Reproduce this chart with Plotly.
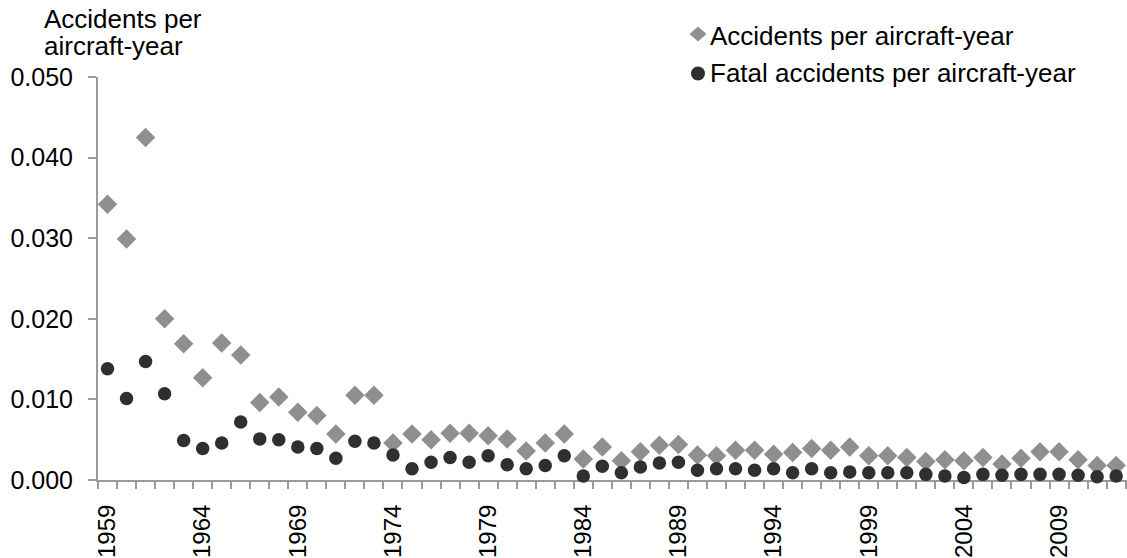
import plotly.graph_objects as go

# years on the x axis (one category per year)
years = list(range(1959, 2013))

tick_years = [1959, 1964, 1969, 1974, 1979, 1984, 1989, 1994, 1999, 2004, 2009]
tick_text = ['1959', '1964', '1969', '1974', '1979', '1984', '1989', '1994', '1999', '2004', '2009']

accidents = [
    0.0342, 0.0299, 0.0425, 0.0200, 0.0169, 0.0127, 0.0170, 0.0155, 0.0096, 0.0103,
    0.0084, 0.0080, 0.0057, 0.0105, 0.0105, 0.0046, 0.0057, 0.0050, 0.0058, 0.0058,
    0.0055, 0.0051, 0.0036, 0.0046, 0.0057, 0.0026, 0.0041, 0.0024, 0.0035, 0.0043,
    0.0044, 0.0031, 0.0030, 0.0037, 0.0037, 0.0032, 0.0034, 0.0039, 0.0037, 0.0041,
    0.0030, 0.0030, 0.0028, 0.0023, 0.0025, 0.0024, 0.0028, 0.0020, 0.0027, 0.0035,
    0.0035, 0.0025, 0.0018, 0.0018,
]

fatal = [
    0.0138, 0.0101, 0.0147, 0.0107, 0.0049, 0.0039, 0.0046, 0.0072, 0.0051, 0.0050,
    0.0041, 0.0039, 0.0027, 0.0048, 0.0046, 0.0031, 0.0014, 0.0022, 0.0028, 0.0022,
    0.0030, 0.0019, 0.0014, 0.0018, 0.0030, 0.0005, 0.0017, 0.0009, 0.0016, 0.0021,
    0.0022, 0.0012, 0.0014, 0.0014, 0.0012, 0.0014, 0.0009, 0.0014, 0.0009, 0.0010,
    0.0009, 0.0009, 0.0009, 0.0007, 0.0005, 0.0003, 0.0007, 0.0006, 0.0007, 0.0007,
    0.0007, 0.0006, 0.0004, 0.0005,
]

W, H = 1127, 558
ML, MR, MT, MB = 98, 0, 77, 78
FONT = 'Arial, Liberation Sans, sans-serif'
GREY = '#8f8f8f'
DARK = '#2f2f2f'
AXIS = '#9a9a9a'


# pixel position -> paper coordinates
def px(x):
    return (x - ML) / (W - ML - MR)


def py(y):
    return (H - MB - y) / (H - MT - MB)


fig = go.Figure()

fig.add_trace(go.Scatter(
    x=years, y=accidents, mode='markers', name='Accidents per aircraft-year',
    marker=dict(symbol='diamond', size=15, color=GREY),
    cliponaxis=False, showlegend=False
))
fig.add_trace(go.Scatter(
    x=years, y=fatal, mode='markers', name='Fatal accidents per aircraft-year',
    marker=dict(symbol='circle', size=13.5, color=DARK),
    cliponaxis=False, showlegend=False
))

# legend keys and texts
fig.add_shape(type='path', xref='paper', yref='paper', xsizemode='pixel', ysizemode='pixel',
              xanchor=px(698), yanchor=py(34), path='M -8.5 0 L 0 7.5 L 8.5 0 L 0 -7.5 Z',
              fillcolor=GREY, line=dict(width=0))
fig.add_shape(type='circle', xref='paper', yref='paper', xsizemode='pixel', ysizemode='pixel',
              xanchor=px(698), yanchor=py(73.5), x0=-7, x1=7, y0=-7, y1=7,
              fillcolor=DARK, line=dict(width=0))

annos = [
    ('Accidents per aircraft-year', 708, 36),
    ('Fatal accidents per aircraft-year', 708, 72.5),
    ('Accidents per', 42, 19),
    ('aircraft-year', 42, 46),
]
for txt, x, y in annos:
    fig.add_annotation(text=txt, xref='paper', yref='paper', x=px(x), y=py(y),
                       xanchor='left', yanchor='middle', showarrow=False,
                       font=dict(family=FONT, size=26, color='#000000'))

fig.update_layout(
    width=W, height=H,
    margin=dict(l=ML, r=MR, t=MT, b=MB),
    paper_bgcolor='white', plot_bgcolor='white',
    font=dict(family=FONT, color='#000000'),
    showlegend=False,
)

fig.update_xaxes(
    range=[1958.5, 2012.57],
    tickmode='array', tickvals=tick_years, ticktext=tick_text,
    tickangle=-90, ticks='', ticklabelstandoff=13,
    tickfont=dict(family=FONT, size=24, color='#000000'),
    minor=dict(tickmode='linear', tick0=1958.5, dtick=1, ticks='outside',
               ticklen=7, tickwidth=2, tickcolor=AXIS, showgrid=False),
    showline=True, linecolor=AXIS, linewidth=2,
    showgrid=False, zeroline=False, layer='below traces',
)

fig.update_yaxes(
    range=[0, 0.05], dtick=0.01, tickformat='.3f',
    ticks='outside', ticklen=8, tickwidth=2, tickcolor=AXIS, ticklabelstandoff=10,
    tickfont=dict(family=FONT, size=25, color='#000000'),
    showline=True, linecolor=AXIS, linewidth=2,
    showgrid=False, zeroline=False, layer='below traces',
)

# the page's default body margin would shift the figure; remove it
fig.write_html("out.html", config={'displayModeBar': False},
               post_script="document.body.style.margin='0';")
